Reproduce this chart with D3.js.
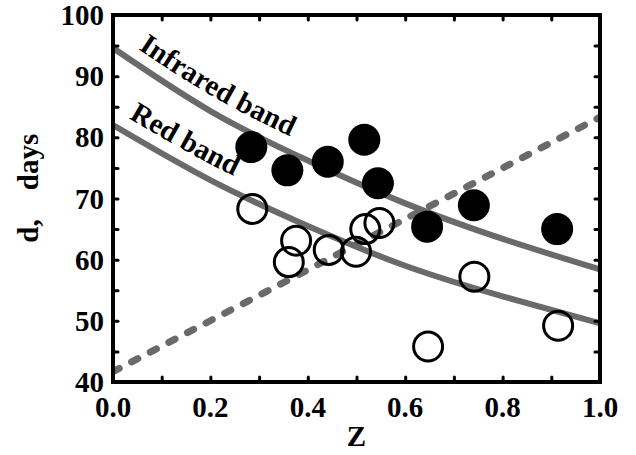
<!DOCTYPE html>
<html>
<head>
<meta charset="utf-8">
<script src="https://cdn.jsdelivr.net/npm/d3@7/dist/d3.min.js"></script>
<style>
    body { margin: 0; background: #fff; }
    text { font-family: "Liberation Serif", "Times New Roman", serif; font-weight: bold; }
</style>
</head>
<body>
<svg id="chart" width="636" height="455"></svg>
<script>
// infrared band (filled circles)
var irZ = [0.284, 0.358, 0.441, 0.516, 0.544, 0.645, 0.741, 0.912];
var irD = [78.4, 74.6, 76.0, 79.6, 72.5, 65.4, 68.9, 65.0];
// red band (open circles)
var redZ = [0.286, 0.376, 0.361, 0.443, 0.499, 0.518, 0.547, 0.647, 0.742, 0.914];
var redD = [68.3, 63.1, 59.6, 61.6, 61.3, 65.0, 66.0, 45.8, 57.2, 49.2];
// model curves
var curveZ = [0, 0.2, 0.4, 0.6, 0.8, 1.0];
var irCurve = [94.6, 84.3, 76.2, 69.2, 63.4, 58.4];
var redCurve = [82.0, 73.0, 65.5, 59.0, 54.0, 49.6];
var dashZ = [0, 1];
var dashD = [41.7, 83.3];

var xTicks = [0, 0.1, 0.2, 0.3, 0.4, 0.5, 0.6, 0.7, 0.8, 0.9, 1.0];
var yTicks = [40, 45, 50, 55, 60, 65, 70, 75, 80, 85, 90, 95, 100];

var margin = {left: 113, right: 36, top: 15, bottom: 73};
var W = 636, H = 455;
var w = W - margin.left - margin.right;
var h = H - margin.top - margin.bottom;

var svg = d3.select("#chart");
var g = svg.append("g").attr("transform", "translate(" + margin.left + "," + margin.top + ")");

var x = d3.scaleLinear().domain([0, 1]).range([0, w]);
var y = d3.scaleLinear().domain([40, 100]).range([h, 0]);

var grey = "#6a6a6a";
var line = d3.line().x(function (d) { return x(d[0]); }).y(function (d) { return y(d[1]); });

// clip lines to frame
g.append("clipPath").attr("id", "clip").append("rect").attr("width", w).attr("height", h);
var plot = g.append("g").attr("clip-path", "url(#clip)");

plot.append("path")
    .datum(dashZ.map(function (z, i) { return [z, dashD[i]]; }))
    .attr("d", line)
    .attr("fill", "none").attr("stroke", grey).attr("stroke-width", 7)
    .attr("stroke-dasharray", "7,14").attr("stroke-linecap", "round");

function smooth(dy) {
    return d3.line().curve(d3.curveNatural)
        .x(function (d) { return x(d[0]); }).y(function (d) { return y(d[1]) + dy; });
}
[irCurve, redCurve].forEach(function (c) {
    plot.append("path")
        .datum(curveZ.map(function (z, i) { return [z, c[i]]; }))
        .attr("d", smooth(0))
        .attr("fill", "none").attr("stroke", grey).attr("stroke-width", 6);
});

// band labels follow their curves
var defs = svg.append("defs");
defs.append("path").attr("id", "irPath")
    .attr("transform", "translate(" + margin.left + "," + margin.top + ")")
    .attr("d", smooth(-16)(curveZ.map(function (z, i) { return [z, irCurve[i]]; })));
defs.append("path").attr("id", "redPath")
    .attr("transform", "translate(" + margin.left + "," + margin.top + ")")
    .attr("d", smooth(-16)(curveZ.map(function (z, i) { return [z, redCurve[i]]; })));
svg.append("text").attr("font-size", 29)
    .append("textPath").attr("href", "#irPath").attr("startOffset", 30).text("Infrared band");
svg.append("text").attr("font-size", 29)
    .append("textPath").attr("href", "#redPath").attr("startOffset", 18).text("Red band");

// points
g.selectAll(".ir").data(irZ).enter().append("circle").attr("class", "ir")
    .attr("cx", function (d) { return x(d); })
    .attr("cy", function (d, i) { return y(irD[i]); })
    .attr("r", 16).attr("fill", "#000");
g.selectAll(".red").data(redZ).enter().append("circle").attr("class", "red")
    .attr("cx", function (d) { return x(d); })
    .attr("cy", function (d, i) { return y(redD[i]); })
    .attr("r", 14.5).attr("fill", "none").attr("stroke", "#000").attr("stroke-width", 3);

// axes, ticks pointing in
function styleAxis(sel) {
    sel.select(".domain").remove();
    sel.selectAll(".tick line").attr("stroke", "#000").attr("stroke-width", 3).attr("stroke-linecap", "round");
}
var xInner = xTicks.slice(1, -1);
var yInner = yTicks.slice(1, -1);
g.append("g").attr("transform", "translate(0," + h + ")")
    .call(d3.axisBottom(x).tickValues(xInner).tickSize(-5).tickFormat(""))
    .call(styleAxis);
g.append("g")
    .call(d3.axisTop(x).tickValues(xInner).tickSize(-5).tickFormat(""))
    .call(styleAxis);
g.append("g")
    .call(d3.axisLeft(y).tickValues(yInner).tickSize(-5).tickFormat(""))
    .call(styleAxis);
g.append("g").attr("transform", "translate(" + w + ",0)")
    .call(d3.axisRight(y).tickValues(yInner).tickSize(-5).tickFormat(""))
    .call(styleAxis);

// tick labels
g.append("g").selectAll("text").data(xTicks.filter(function (d, i) { return i % 2 === 0; }))
    .enter().append("text")
    .attr("x", function (d) { return x(d); }).attr("y", h + 35)
    .attr("text-anchor", "middle").attr("font-size", 29)
    .text(function (d) { return d.toFixed(1); });
g.append("g").selectAll("text").data(yTicks.filter(function (d, i) { return i % 2 === 0; }))
    .enter().append("text")
    .attr("x", -9).attr("y", function (d) { return y(d) + 10; })
    .attr("text-anchor", "end").attr("font-size", 29)
    .text(function (d) { return d; });

// frame
g.append("rect").attr("width", w).attr("height", h)
    .attr("fill", "none").attr("stroke", "#000").attr("stroke-width", 4);

// axis titles
svg.append("text").attr("x", margin.left + w / 2).attr("y", 446)
    .attr("text-anchor", "middle").attr("font-size", 29).text("Z");
svg.append("text").attr("transform", "translate(38,231) rotate(-90)")
    .attr("text-anchor", "middle").attr("font-size", 29).text("d,");
svg.append("text").attr("transform", "translate(38,162) rotate(-90)")
    .attr("text-anchor", "middle").attr("font-size", 29).text("days");
</script>
</body>
</html>
